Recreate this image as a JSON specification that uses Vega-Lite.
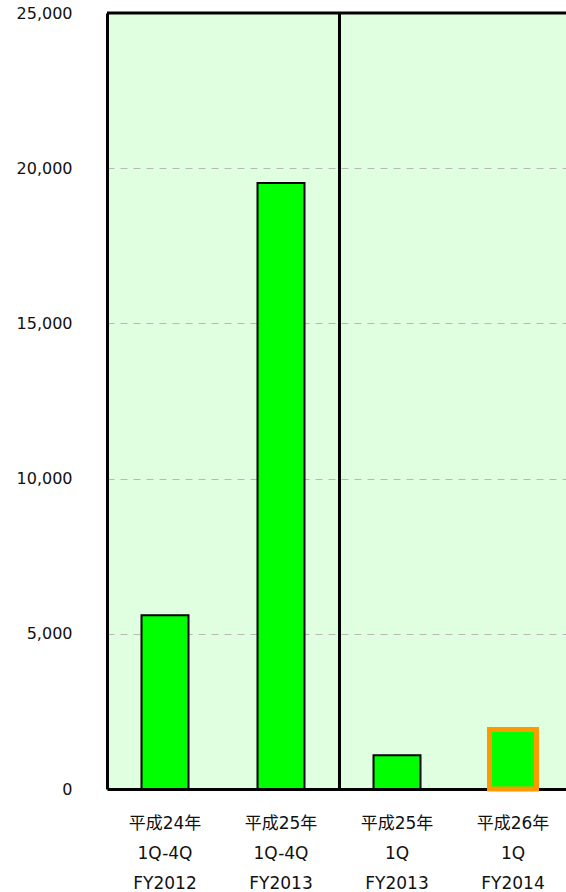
{
  "$schema": "https://vega.github.io/schema/vega-lite/v6.json",
  "autosize": "none",
  "width": 464,
  "height": 776,
  "padding": {"left": 107, "top": 13, "right": 0, "bottom": 103},
  "background": "white",
  "config": {
    "view": {"fill": "#e0ffe0", "stroke": null},
    "font": "DejaVu Sans, Noto Sans CJK JP"
  },
  "datasets": {
    "bars": [
      {"period": "平成24年|1Q-4Q|FY2012", "fy": "FY2012", "value": 5600},
      {"period": "平成25年|1Q-4Q|FY2013", "fy": "FY2013", "value": 19520},
      {"period": "平成25年|1Q|FY2013", "fy": "FY2013Q", "value": 1090},
      {"period": "平成26年|1Q|FY2014", "fy": "FY2014Q", "value": 1920}
    ]
  },
  "layer": [
    {
      "data": {"name": "bars"},
      "mark": {"type": "bar"},
      "encoding": {
        "x": {
          "field": "period", "type": "nominal", "sort": null,
          "scale": {"paddingInner": 0.595, "paddingOuter": 0.2975},
          "axis": {
            "title": null, "labelAngle": 0, "ticks": false,
            "domain": true, "domainColor": "black", "domainWidth": 3,
            "labelExpr": "split(datum.label, '|')",
            "labelFontSize": 17, "labelLineHeight": 30, "labelPadding": 26,
            "labelColor": "#111", "labelFont": "DejaVu Sans, Noto Sans CJK JP"
          }
        },
        "y": {
          "field": "value", "type": "quantitative",
          "scale": {"domain": [0, 25000], "nice": false},
          "axis": {
            "title": null, "values": [0, 5000, 10000, 15000, 20000, 25000],
            "format": ",d", "labelOverlap": false, "ticks": false, "domain": true, "domainColor": "black", "domainWidth": 3,
            "grid": true, "gridColor": "#b8b8b8", "gridDash": [7, 6], "gridWidth": 1,
            "labelFontSize": 16, "labelPadding": 35, "labelColor": "#111", "labelFont": "DejaVu Sans, Noto Sans CJK JP"
          }
        },
        "fill": {"value": "#00ff00"},
        "stroke": {"condition": {"test": "datum.fy == 'FY2014Q'", "value": "#ff9900"}, "value": "black"},
        "strokeWidth": {"condition": {"test": "datum.fy == 'FY2014Q'", "value": 5}, "value": 2}
      }
    },
    {
      "data": {"values": [{}]},
      "mark": {"type": "rule", "color": "black", "strokeWidth": 3},
      "encoding": {"y": {"datum": 25000}}
    },
    {
      "data": {"values": [{}]},
      "mark": {"type": "rule", "color": "black", "strokeWidth": 3, "xOffset": 35},
      "encoding": {"x": {"datum": "平成25年|1Q-4Q|FY2013", "bandPosition": 1}}
    }
  ]
}
